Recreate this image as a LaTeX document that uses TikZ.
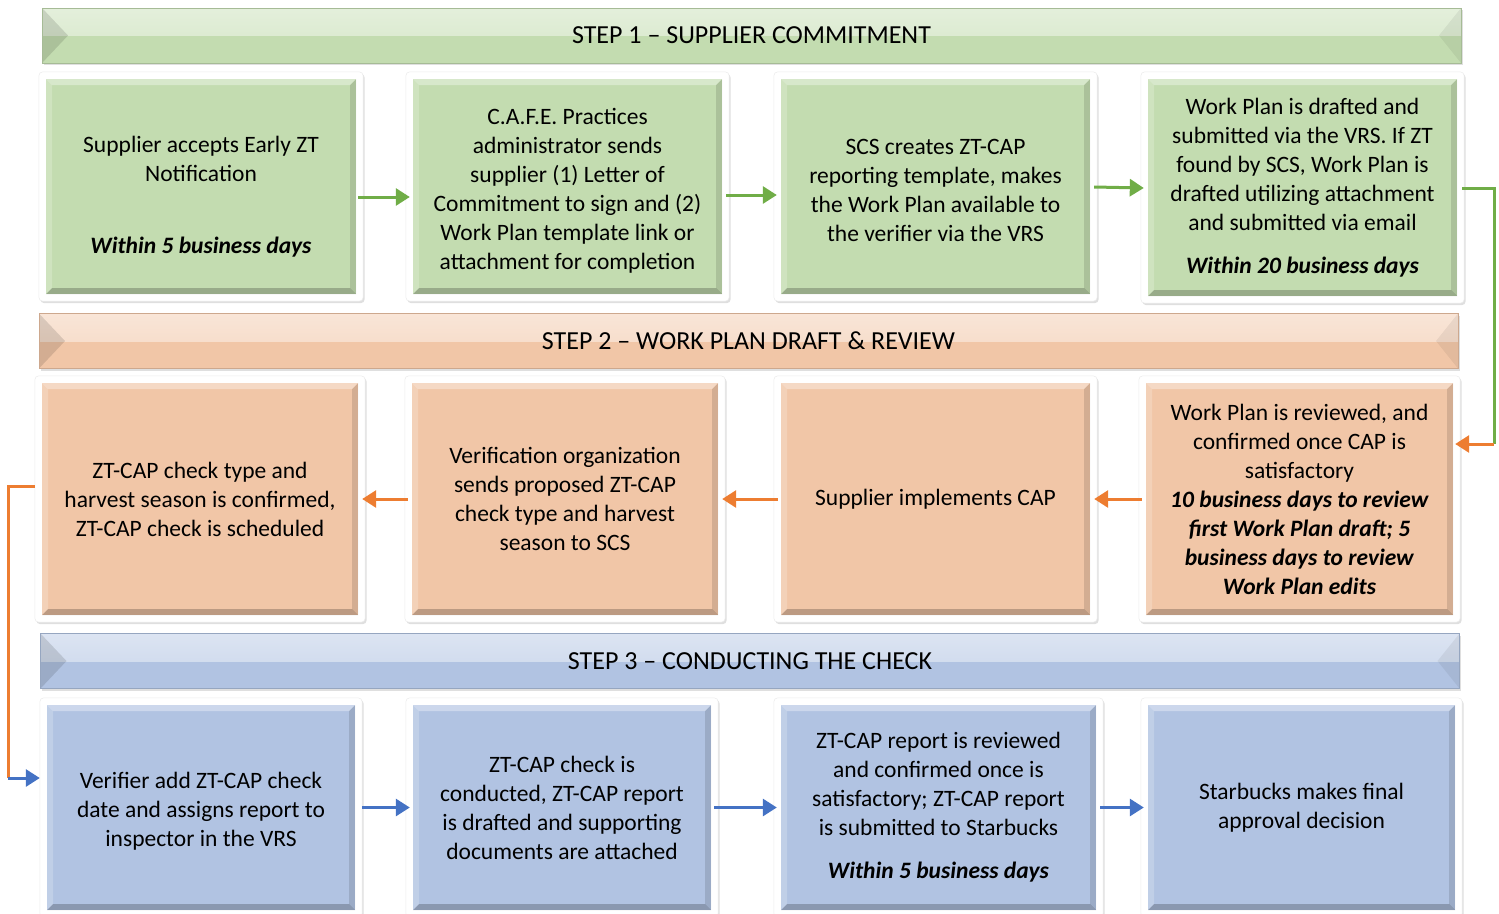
\documentclass[tikz,border=0pt]{standalone}
\usepackage{fontspec}
\setmainfont{Carlito}
\usetikzlibrary{arrows.meta,shadows,backgrounds,fit,calc}
\definecolor{gfill}{RGB}{195,220,176}
\definecolor{ofill}{RGB}{241,198,167}
\definecolor{bfill}{RGB}{177,195,226}
\definecolor{garr}{RGB}{112,173,71}
\definecolor{oarr}{RGB}{237,125,49}
\definecolor{barr}{RGB}{68,114,196}
\newcommand{\bitx}[1]{\textbf{\textit{#1}}}
\newcommand{\tstr}[1]{\rule{0pt}{\dimexpr 17.6pt+#1\relax}}
\tikzset{
  bevel/.style={path picture={
    \fill[black,opacity=0.22] (path picture bounding box.south west) -- (path picture bounding box.south east)
      -- ([shift={(-6pt,6pt)}]path picture bounding box.south east) -- ([shift={(6pt,6pt)}]path picture bounding box.south west) -- cycle;
    \fill[black,opacity=0.12] (path picture bounding box.south east) -- (path picture bounding box.north east)
      -- ([shift={(-6pt,-6pt)}]path picture bounding box.north east) -- ([shift={(-6pt,6pt)}]path picture bounding box.south east) -- cycle;
    \fill[white,opacity=0.35] (path picture bounding box.north west) -- (path picture bounding box.north east)
      -- ([shift={(-6pt,-6pt)}]path picture bounding box.north east) -- ([shift={(6pt,-6pt)}]path picture bounding box.north west) -- cycle;
    \fill[white,opacity=0.2] (path picture bounding box.north west) -- (path picture bounding box.south west)
      -- ([shift={(6pt,6pt)}]path picture bounding box.south west) -- ([shift={(6pt,-6pt)}]path picture bounding box.north west) -- cycle;
  }},
  stepbox/.style={bevel, rectangle, inner sep=0pt, align=center, fill=#1,
    font=\fontsize{23.5}{29}\selectfont},
  frame/.style={fill=white, draw=black!8, line width=0.5pt, rounded corners=4pt, inner sep=7pt,
    drop shadow={opacity=0.25, shadow xshift=1.5pt, shadow yshift=-2pt}},
  banner/.style={rectangle, fill=#1, draw=#1!85!black, line width=0.6pt,
    minimum width=1419pt, minimum height=55pt, inner sep=0pt,
    font=\fontsize{26}{30}\selectfont,
    drop shadow={opacity=0.25, shadow xshift=1.5pt, shadow yshift=-2pt},
    path picture={
      \shade[top color=#1!45!white, middle color=#1!10!white, bottom color=#1!70!white]
        (path picture bounding box.north west) rectangle (path picture bounding box.east);
      \fill[black,opacity=0.12] (path picture bounding box.north west)
        -- ([xshift=26pt]path picture bounding box.west) -- (path picture bounding box.south west) -- cycle;
      \fill[black,opacity=0.06] (path picture bounding box.north east)
        -- ([xshift=-22pt]path picture bounding box.east) -- (path picture bounding box.south east) -- cycle;
    }},
  conn/.style={line width=3pt, draw=#1},
  arr/.style={line width=3pt, draw=#1, -{Triangle[length=14pt,width=17pt,fill=#1]}}
}
\begin{document}
\begin{tikzpicture}[x=1pt,y=-1pt]
\useasboundingbox (0,0) rectangle (1499,913);

% banners
\node[banner=gfill] (s1) at (751.5,35.5) {\raisebox{-3pt}{STEP 1 -- SUPPLIER COMMITMENT}};
\node[banner=ofill] (s2) at (748.5,341) {\raisebox{-3pt}{STEP 2 -- WORK PLAN DRAFT \& REVIEW}};
\node[banner=bfill] (s3) at (750,661) {\raisebox{-3pt}{STEP 3 -- CONDUCTING THE CHECK}};

% row 1
\node[stepbox=gfill, minimum width=310pt, minimum height=215pt] (b11) at (201,186.5)
  {\tstr{20pt}Supplier accepts Early ZT\\Notification\\[43pt]\bitx{Within 5 business days}};
\node[stepbox=gfill, minimum width=309pt, minimum height=215pt] (b12) at (567.5,186.5)
  {\tstr{8pt}C.A.F.E. Practices\\administrator sends\\supplier (1) Letter of\\Commitment to sign and (2)\\Work Plan template link or\\attachment for completion};
\node[stepbox=gfill, minimum width=309pt, minimum height=215pt] (b13) at (935.5,186.5)
  {\tstr{6pt}SCS creates ZT-CAP\\reporting template, makes\\the Work Plan available to\\the verifier via the VRS};
\node[stepbox=gfill, minimum width=309pt, minimum height=217pt] (b14) at (1302.5,187.5)
  {Work Plan is drafted and\\submitted via the VRS. If ZT\\found by SCS, Work Plan is\\drafted utilizing attachment\\and submitted via email\\[14pt]\bitx{Within 20 business days}};

% row 2
\node[stepbox=ofill, minimum width=316pt, minimum height=232pt] (b21) at (200,499)
  {ZT-CAP check type and\\harvest season is confirmed,\\ZT-CAP check is scheduled};
\node[stepbox=ofill, minimum width=306pt, minimum height=232pt] (b22) at (565,499)
  {Verification organization\\sends proposed ZT-CAP\\check type and harvest\\season to SCS};
\node[stepbox=ofill, minimum width=309pt, minimum height=232pt] (b23) at (935.5,499)
  {Supplier implements CAP};
\node[stepbox=ofill, minimum width=307pt, minimum height=232pt] (b24) at (1299.5,499)
  {Work Plan is reviewed, and\\confirmed once CAP is\\satisfactory\\\bitx{10 business days to review}\\\bitx{first Work Plan draft; 5}\\\bitx{business days to review}\\\bitx{Work Plan edits}};

% row 3
\node[stepbox=bfill, minimum width=308pt, minimum height=205pt] (b31) at (201,807.5)
  {\tstr{6pt}Verifier add ZT-CAP check\\date and assigns report to\\inspector in the VRS};
\node[stepbox=bfill, minimum width=298pt, minimum height=205pt] (b32) at (562,807.5)
  {ZT-CAP check is\\conducted, ZT-CAP report\\is drafted and supporting\\documents are attached};
\node[stepbox=bfill, minimum width=315pt, minimum height=205pt] (b33) at (938.5,807.5)
  {ZT-CAP report is reviewed\\and confirmed once is\\satisfactory; ZT-CAP report\\is submitted to Starbucks\\[14pt]\bitx{Within 5 business days}};
\node[stepbox=bfill, minimum width=307pt, minimum height=205pt] (b34) at (1301.5,807.5)
  {Starbucks makes final\\approval decision};

% frames behind boxes
\begin{scope}[on background layer]
  \foreach \b in {b11,b12,b13,b14,b21,b22,b23,b24,b31,b32,b33,b34}
    \node[frame, fit=(\b)] (f\b) {};
\end{scope}

% row 1 connectors
\draw[arr=garr] ([shift={(2pt,-10.5pt)}]b11.east) -- ([shift={(-3pt,-10.5pt)}]b12.west);
\draw[arr=garr] ([shift={(4pt,-8.5pt)}]b12.east) -- ([shift={(-4pt,-8.5pt)}]b13.west);
\draw[arr=garr] ([shift={(4pt,-0.5pt)}]b13.east) -- ([shift={(-4pt,-0.5pt)}]b14.west);
\coordinate (c1) at (1494,444);
\draw[conn=garr] ([shift={(5pt,-0.5pt)}]b14.east) -| (c1);
\draw[arr=oarr] (c1) -- ([shift={(2pt,55pt)}]b24.east);

% row 2 connectors
\draw[arr=oarr] ([xshift=-4pt]b24.west) -- ([xshift=4pt]b23.east);
\draw[arr=oarr] ([xshift=-3pt]b23.west) -- ([xshift=4pt]b22.east);
\draw[arr=oarr] ([xshift=-4pt]b22.west) -- ([xshift=4pt]b21.east);
\coordinate (c2) at (8,778);
\draw[conn=oarr] ([shift={(-7pt,13pt)}]b21.west) -| (c2);
\draw[arr=barr] (c2) -- ([shift={(-7pt,29.5pt)}]b31.west);

% row 3 connectors
\draw[arr=barr] ([xshift=7pt]b31.east) -- ([xshift=-3pt]b32.west);
\draw[arr=barr] ([xshift=3pt]b32.east) -- ([xshift=-4pt]b33.west);
\draw[arr=barr] ([xshift=4pt]b33.east) -- ([xshift=-4pt]b34.west);
\end{tikzpicture}
\end{document}
